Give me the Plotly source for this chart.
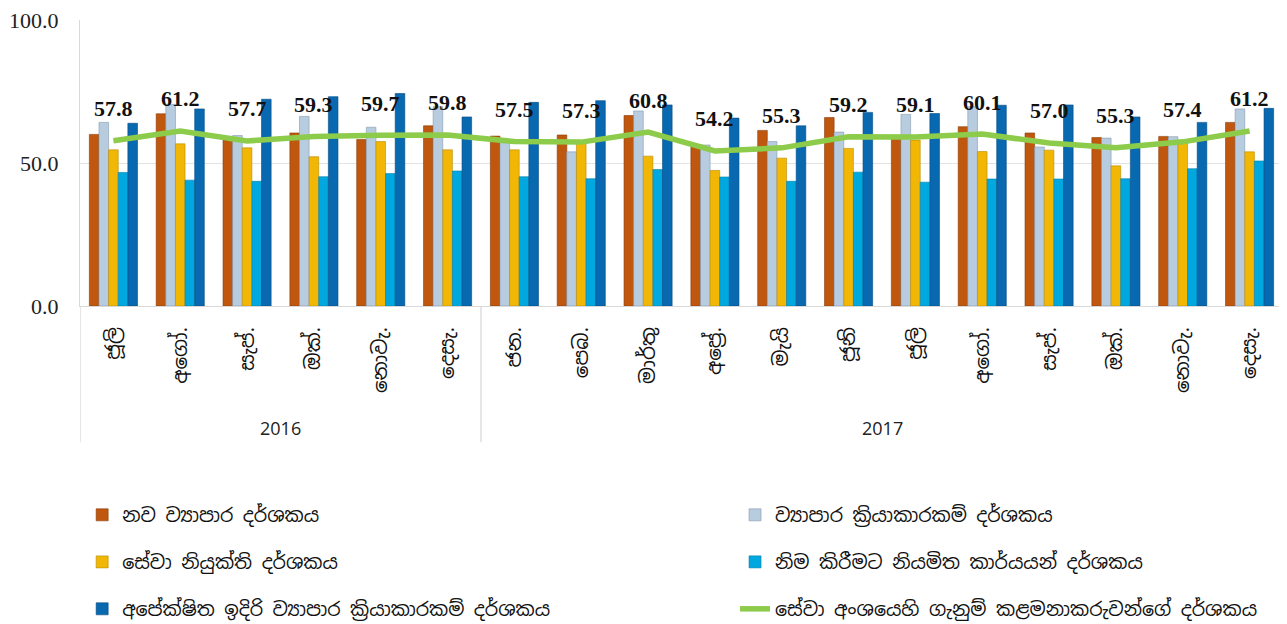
import plotly.graph_objects as go

years = ["2016"] * 6 + ["2017"] * 12
months = ["ජූලි", "අගෝ.", "සැප්.", "ඔක්.", "නොවැ.", "දෙසැ.",
          "ජන.", "පෙබ.", "මාර්තු", "අප්‍රේ.", "මැයි", "ජූනි",
          "ජූලි", "අගෝ.", "සැප්.", "ඔක්.", "නොවැ.", "දෙසැ."]

new_business = [60.0, 67.2, 58.0, 60.5, 58.2, 63.0, 59.4, 59.8, 66.6, 55.9, 61.4, 65.9,
                59.0, 62.7, 60.5, 58.9, 59.3, 64.2]
business_activity = [64.2, 70.5, 59.6, 66.3, 62.5, 69.7, 57.8, 53.9, 68.2, 56.3, 57.5, 60.8,
                     67.0, 69.7, 55.6, 58.7, 59.2, 68.9]
service_employment = [54.6, 56.7, 55.3, 52.2, 57.5, 54.6, 54.6, 57.4, 52.4, 47.4, 51.7, 55.1,
                      58.0, 54.0, 54.5, 49.0, 57.4, 53.9]
outstanding_work = [46.7, 44.0, 43.6, 45.2, 46.3, 47.2, 45.2, 44.5, 47.7, 45.1, 43.6, 46.8,
                    43.3, 44.4, 44.4, 44.5, 48.0, 50.7]
expected_activity = [63.9, 68.9, 72.3, 73.2, 74.3, 66.1, 71.2, 71.8, 70.3, 65.7, 63.0, 67.7,
                     67.3, 70.2, 70.3, 66.1, 64.2, 69.1]
pmi = [57.8, 61.2, 57.7, 59.3, 59.7, 59.8, 57.5, 57.3, 60.8, 54.2, 55.3, 59.2,
       59.1, 60.1, 57.0, 55.3, 57.4, 61.2]

names = ["නව ව්‍යාපාර දර්ශකය", "ව්‍යාපාර ක්‍රියාකාරකම් දර්ශකය", "සේවා නියුක්ති දර්ශකය",
         "නිම කිරීමට නියමිත කාර්යයන් දර්ශකය", "අපේක්ෂිත ඉදිරි ව්‍යාපාර ක්‍රියාකාරකම් දර්ශකය",
         "සේවා අංශයෙහි ගැනුම් කළමනාකරුවන්ගේ දර්ශකය"]
colors = ["#C0570F", "#B8CCE0", "#F2B705", "#00A8DF", "#0868B0"]
line_colors = ["#8A3C08", "#8498AE", "#B98A00", "#0080AA", "#064C82"]

sinhala_font = "Iskoola Pota, Noto Sans Sinhala, Noto Sans, sans-serif"
serif_font = "Liberation Serif, Times New Roman, serif"

idx = list(range(len(months)))
legend_ids = ["legend", "legend2", "legend3", "legend4", "legend5", "legend6"]

fig = go.Figure()
series = [new_business, business_activity, service_employment, outstanding_work, expected_activity]
for k, (name, vals, c, lc) in enumerate(zip(names[:5], series, colors, line_colors)):
    fig.add_trace(go.Bar(x=idx, y=vals, name=name, legend=legend_ids[k],
                         marker=dict(color=c, line=dict(color=lc, width=0.6))))

fig.add_trace(go.Scatter(x=idx, y=pmi, name=names[5], mode="lines", legend=legend_ids[5],
                         line=dict(color="#8DCB4A", width=5.5)))

for i, v in zip(idx, pmi):
    fig.add_annotation(x=i, y=v, xref="x", yref="y", text=f"<b>{v:.1f}</b>",
                       showarrow=False, yshift=32,
                       font=dict(family=serif_font, size=22, color="#111"))

# year group labels and dividers
groups = []
for i, y in enumerate(years):
    if not groups or groups[-1][0] != y:
        groups.append([y, i, i])
    else:
        groups[-1][2] = i
for y, a, b in groups:
    fig.add_annotation(x=(a + b) / 2, y=-0.427, xref="x", yref="paper", text=y,
                       showarrow=False, yanchor="middle",
                       font=dict(family="Open Sans, sans-serif", size=18, color="#222"))
bounds = [groups[0][1] - 0.5] + [b + 0.5 for _, _, b in groups]
for bx in bounds:
    fig.add_shape(type="line", x0=bx, x1=bx, y0=0, y1=-0.476, xref="x", yref="paper",
                  line=dict(color="#d9d9d9", width=1.3))

legend_common = dict(orientation="h", xanchor="left", yanchor="middle", yref="container",
                     font=dict(family=sinhala_font, size=19, color="#111"),
                     bgcolor="rgba(0,0,0,0)")
col_x = [0.0018, 0.5445]
row_y = [0.177, 0.1006, 0.0244]
legends = {}
for k, lid in enumerate(legend_ids):
    legends[lid] = dict(x=col_x[k % 2], y=row_y[k // 2], **legend_common)

fig.update_layout(
    width=1279, height=616,
    margin=dict(l=72, r=4, t=12, b=318, autoexpand=False),
    paper_bgcolor="white", plot_bgcolor="white",
    barmode="group", bargap=0.28, bargroupgap=0,
    showlegend=True,
    **legends,
)
fig.update_xaxes(range=[-0.5, len(months) - 0.5], tickvals=idx, ticktext=months,
                 tickangle=-90, automargin=False, ticklabelstandoff=12,
                 tickfont=dict(family=sinhala_font, size=20, color="#111"),
                 showline=True, linecolor="#d9d9d9", linewidth=1,
                 showgrid=False, zeroline=False, ticks="")
fig.update_yaxes(range=[0, 100], tickvals=[0, 50, 100], tickformat=".1f",
                 automargin=False, ticklabelstandoff=16, ticklabeloverflow="allow",
                 showgrid=True, gridcolor="#e3e3e3", gridwidth=1,
                 showline=True, linecolor="#d9d9d9",
                 zeroline=False, ticks="",
                 tickfont=dict(family=serif_font, size=22, color="#222"))

fig.write_html("out.html")
